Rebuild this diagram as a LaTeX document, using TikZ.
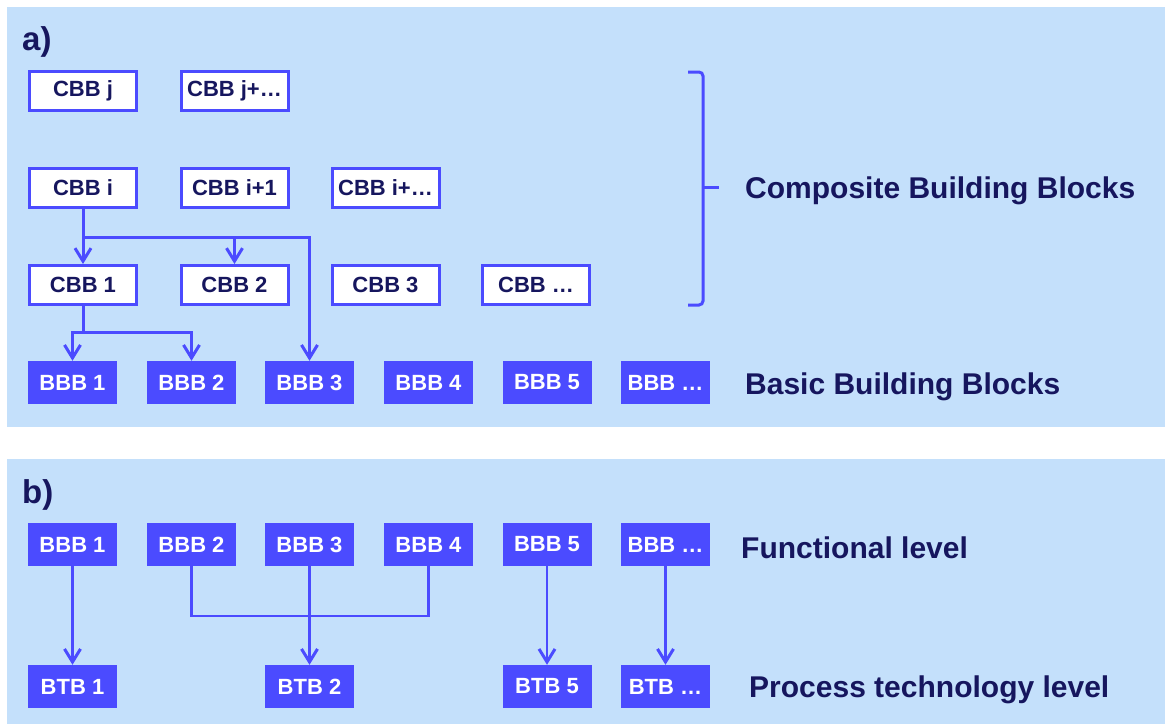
\documentclass[tikz,border=0pt]{standalone}
\usepackage{fontspec}
\setmainfont{Liberation Sans}
\usetikzlibrary{arrows.meta}

\definecolor{panelbg}{HTML}{C4E0FB}
\definecolor{blockblue}{HTML}{4B4BFF}
\definecolor{navy}{HTML}{16165E}

\begin{document}
\begin{tikzpicture}[x=1pt,y=-1pt,
    cbb/.style={draw=blockblue, line width=3pt, fill=white, minimum width=107pt, minimum height=39pt, inner sep=0pt, text=navy, font=\bfseries\fontsize{22}{26}\selectfont},
    bbb/.style={fill=blockblue, minimum width=89pt, minimum height=43pt, inner sep=0pt, text=white, font=\bfseries\fontsize{22}{26}\selectfont},
    lvl/.style={anchor=west, inner sep=0pt, text=navy, font=\bfseries\fontsize{30}{34}\selectfont},
    tag/.style={anchor=base west, inner sep=0pt, text=navy, font=\bfseries\fontsize{33}{36}\selectfont},
    link/.style={draw=blockblue, line width=3pt, -{Straight Barb[length=13pt, width=16pt, line width=3pt]}},
    joint/.style={draw=blockblue, line width=3pt}]
    \useasboundingbox (0,0) rectangle (1165,724);

    % Panels
    \fill[panelbg] (7,7) rectangle (1165,427);
    \fill[panelbg] (7,459) rectangle (1165,724);
    \node[tag] (taga) at (22,50) {a)};
    \node[tag] (tagb) at (22,503) {b)};

    % Composite building blocks
    \node[cbb] (cbbj) at (83,91) {CBB j};
    \node[cbb] (cbbjx) at (234.5,91) {CBB j+…};
    \node[cbb] (cbbi) at (83,188) {CBB i};
    \node[cbb] (cbbi1) at (234.5,188) {CBB i+1};
    \node[cbb] (cbbix) at (385.5,188) {CBB i+…};
    \node[cbb] (cbb1) at (83,285) {CBB 1};
    \node[cbb] (cbb2) at (234.5,285) {CBB 2};
    \node[cbb] (cbb3) at (385.5,285) {CBB 3};
    \node[cbb] (cbbx) at (536,285) {CBB …};

    % Basic building blocks, both panels
    \foreach \x/\t [count=\n] in {72.5/1, 191.5/2, 309.5/3, 428.5/4, 547/5, 665.5/…}{
        \node[bbb] (ba\n) at (\x,382.5) {BBB \t};
        \node[bbb] (bb\n) at (\x,544.5) {BBB \t};
    }

    % Process technology blocks
    \node[bbb] (btb1) at (72.5,686.5) {BTB 1};
    \node[bbb] (btb2) at (309.5,686.5) {BTB 2};
    \node[bbb] (btb5) at (547,686.5) {BTB 5};
    \node[bbb] (btbx) at (665.5,686.5) {BTB …};

    % Connectors of panel a
    \coordinate (forki) at (83,237);
    \coordinate (fork1) at (83,332);
    \draw[link] (cbbi.south) -- (cbb1.north);
    \draw[link] (forki) -| (cbb2.north);
    \draw[link] (forki) -| (ba3.north);
    \draw[joint] (cbb1.south) -- (fork1);
    \draw[link] (fork1) -| (ba1.north);
    \draw[link] (fork1) -| (ba2.north);

    % Connectors of panel b
    \coordinate (merge) at (309.5,616);
    \draw[link, line width=2.2pt] (bb1.south) -- (btb1.north);
    \draw[joint, line width=2.2pt] (bb2.south) |- (merge) -| (bb4.south);
    \draw[link, line width=2.2pt] (bb3.south) -- (btb2.north);
    \draw[link, line width=2.2pt] (bb5.south) -- (btb5.north);
    \draw[link, line width=2.2pt] (bb6.south) -- (btbx.north);

    % Brace
    \draw[joint, rounded corners=4pt] (688,72) -- (703,72) -- (703,305) -- (688,305);
    \draw[joint] (703,187) -- (719,187);

    % Level labels
    \node[lvl] (cbblabel) at (745,191) {Composite Building Blocks};
    \node[lvl] (bbblabel) at (745,387) {Basic Building Blocks};
    \node[lvl] (funclabel) at (741,548) {Functional level};
    \node[lvl] (proclabel) at (749,690) {Process technology level};
\end{tikzpicture}
\end{document}
